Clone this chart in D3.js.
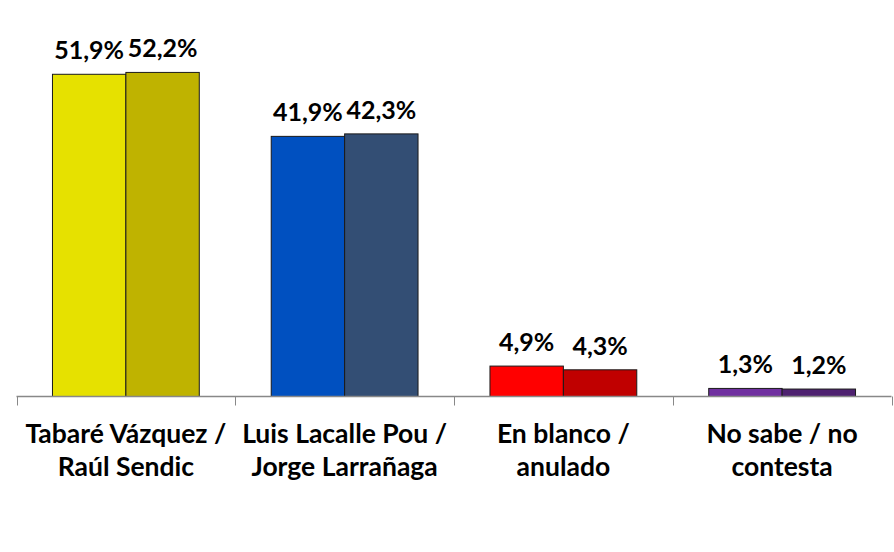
<!DOCTYPE html>
<html>
<head>
<meta charset="utf-8">
<script src="https://cdn.jsdelivr.net/npm/d3@7"></script>
<style>
html,body{margin:0;padding:0;background:#fff;}
svg{display:block;}
</style>
</head>
<body>
<svg id="chart" width="894" height="552"></svg>
<script>
const categories = [
  ["Tabaré Vázquez /", "Raúl Sendic"],
  ["Luis Lacalle Pou /", "Jorge Larrañaga"],
  ["En blanco /", "anulado"],
  ["No sabe / no", "contesta"]
];
const seriesNames = ["s1", "s2"];
const series1 = [51.9, 41.9, 4.9, 1.3];
const series2 = [52.2, 42.3, 4.3, 1.2];
const labels1 = ["51,9%", "41,9%", "4,9%", "1,3%"];
const labels2 = ["52,2%", "42,3%", "4,3%", "1,2%"];
const colors1 = ["#E6E100", "#0050C0", "#FF0000", "#7030A0"];
const colors2 = ["#BFB300", "#334E74", "#C00000", "#4E2170"];

const svg = d3.select("#chart");
const font = "Lato, 'Open Sans', sans-serif";

const x0 = d3.scaleBand().domain(d3.range(categories.length)).range([16.5, 891.5]).paddingInner(0).paddingOuter(0);
const x1 = d3.scaleBand().domain(seriesNames).range([0, x0.bandwidth()]).paddingInner(0).paddingOuter(0.49);
const y = d3.scaleLinear().domain([0, 60]).range([396.5, 24]);

const data = [];
categories.forEach((c, i) => {
  data.push({i, s: "s1", v: series1[i], label: labels1[i], color: colors1[i]});
  data.push({i, s: "s2", v: series2[i], label: labels2[i], color: colors2[i]});
});

svg.selectAll("rect.bar").data(data).enter().append("rect")
  .attr("class", "bar")
  .attr("x", d => x0(d.i) + x1(d.s))
  .attr("y", d => y(d.v))
  .attr("width", x1.bandwidth())
  .attr("height", d => y(0) - y(d.v))
  .attr("fill", d => d.color)
  .attr("stroke", "#1a1a1a")
  .attr("stroke-width", 1);

svg.selectAll("text.val").data(data).enter().append("text")
  .attr("class", "val")
  .attr("x", d => x0(d.i) + x1(d.s) + x1.bandwidth() / 2)
  .attr("y", d => y(d.v) - 15)
  .attr("text-anchor", "middle")
  .attr("font-family", font)
  .attr("font-weight", "bold")
  .attr("font-size", "25px")
  .attr("fill", "#000")
  .text(d => d.label);

// axis
const axis = d3.axisBottom(x0).tickSize(0).tickFormat("");
const g = svg.append("g").attr("transform", `translate(0,${y(0)})`).call(axis);
g.select(".domain").attr("stroke", "#888").attr("stroke-width", 1.5).attr("d", `M16.5,0H891.5`);
const bounds = d3.range(categories.length + 1).map(k => k < categories.length ? x0(k) : x0.range()[1]);
g.selectAll("line.sep").data(bounds).enter().append("line")
  .attr("class", "sep")
  .attr("x1", d => Math.round(d) + 0.5).attr("x2", d => Math.round(d) + 0.5)
  .attr("y1", 0).attr("y2", 9)
  .attr("stroke", "#888").attr("stroke-width", 1);

const cat = svg.selectAll("text.cat").data(categories).enter().append("text")
  .attr("class", "cat")
  .attr("text-anchor", "middle")
  .attr("font-family", font)
  .attr("font-weight", "bold")
  .attr("font-size", "26.5px")
  .attr("fill", "#000");
cat.each(function(c, i) {
  const t = d3.select(this);
  c.forEach((line, j) => {
    t.append("tspan").attr("x", x0(i) + x0.bandwidth() / 2).attr("y", 443 + j * 33).text(line);
  });
});
</script>
</body>
</html>
